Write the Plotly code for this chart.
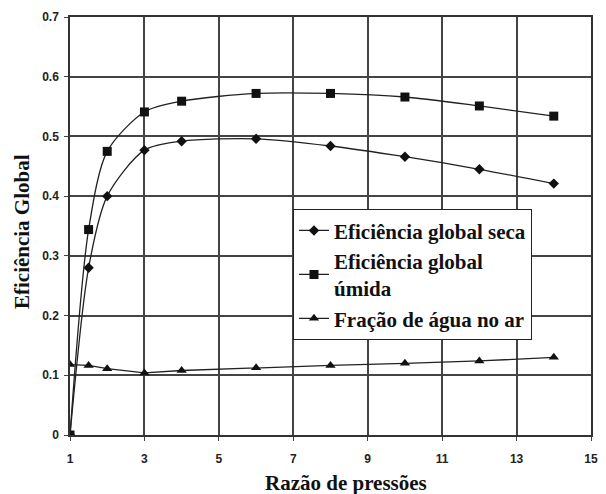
import plotly.graph_objects as go

x_seca = [1, 1.5, 2, 3, 4, 6, 8, 10, 12, 14]
y_seca = [0.0, 0.28, 0.400, 0.477, 0.492, 0.496, 0.484, 0.466, 0.445, 0.421]

x_umida = [1, 1.5, 2, 3, 4, 6, 8, 10, 12, 14]
y_umida = [0.0, 0.344, 0.475, 0.541, 0.559, 0.572, 0.572, 0.566, 0.551, 0.534]

x_agua = [1, 1.5, 2, 3, 4, 6, 8, 10, 12, 14]
y_agua = [0.118, 0.1165, 0.111, 0.104, 0.108, 0.1125, 0.1165, 0.120, 0.124, 0.130]

x_ticks = [1, 3, 5, 7, 9, 11, 13, 15]
y_ticks = [0, 0.1, 0.2, 0.3, 0.4, 0.5, 0.6, 0.7]
y_ticklabels = ["0", "0.1", "0.2", "0.3", "0.4", "0.5", "0.6", "0.7"]

names = ["Eficiência global seca", "Eficiência global<br>úmida", "Fração de água no ar"]
x_title = "Razão de pressões"
y_title = "Eficiência Global"

fig = go.Figure()
fig.add_trace(go.Scatter(x=x_seca, y=y_seca, name=names[0], mode="lines+markers",
                         line=dict(color="#222", width=1.3, shape="spline", smoothing=0.8),
                         marker=dict(symbol="diamond", size=8, color="#111")))
fig.add_trace(go.Scatter(x=x_umida, y=y_umida, name=names[1], mode="lines+markers",
                         line=dict(color="#222", width=1.3, shape="spline", smoothing=0.8),
                         marker=dict(symbol="square", size=9, color="#111")))
fig.add_trace(go.Scatter(x=x_agua, y=y_agua, name=names[2], mode="lines+markers",
                         line=dict(color="#222", width=1.3),
                         marker=dict(symbol="triangle-up", size=9, color="#111")))

axis_font = dict(family="Liberation Sans", size=12, color="#222", weight="bold")
title_font = dict(family="Liberation Serif", size=21, color="#111", weight="bold")

fig.update_layout(
    width=606, height=494,
    margin=dict(l=70, r=8, t=17, b=59),
    paper_bgcolor="white", plot_bgcolor="white",
    showlegend=True,
    legend=dict(x=0.428, y=0.54, xanchor="left", yanchor="top",
                bgcolor="white", bordercolor="#222", borderwidth=1,
                font=dict(family="Liberation Serif", size=21, color="#111", weight="bold"),
                tracegroupgap=0, itemwidth=30),
    xaxis=dict(range=[1, 15], tickvals=x_ticks, showgrid=True, gridcolor="#444", gridwidth=1.5,
               showline=True, linecolor="#333", linewidth=1.5, mirror=True,
               ticks="outside", ticklen=4, tickcolor="#444", tickfont=axis_font,
               ticklabelstandoff=8, zeroline=False),
    yaxis=dict(range=[0, 0.7], tickvals=y_ticks, ticktext=y_ticklabels, showgrid=True,
               gridcolor="#444", gridwidth=1.5,
               showline=True, linecolor="#333", linewidth=1.5, mirror=True,
               ticks="outside", ticklen=4, tickcolor="#444", tickfont=axis_font,
               ticklabelstandoff=3, zeroline=False),
    annotations=[
        dict(text=x_title, xref="paper", yref="paper", x=0.53, y=-0.115,
             xanchor="center", yanchor="middle", showarrow=False, font=title_font),
        dict(text=y_title, xref="paper", yref="paper", x=-0.091, y=0.487,
             xanchor="center", yanchor="middle", textangle=-90, showarrow=False, font=title_font),
    ],
)

fig.write_html("out.html")
